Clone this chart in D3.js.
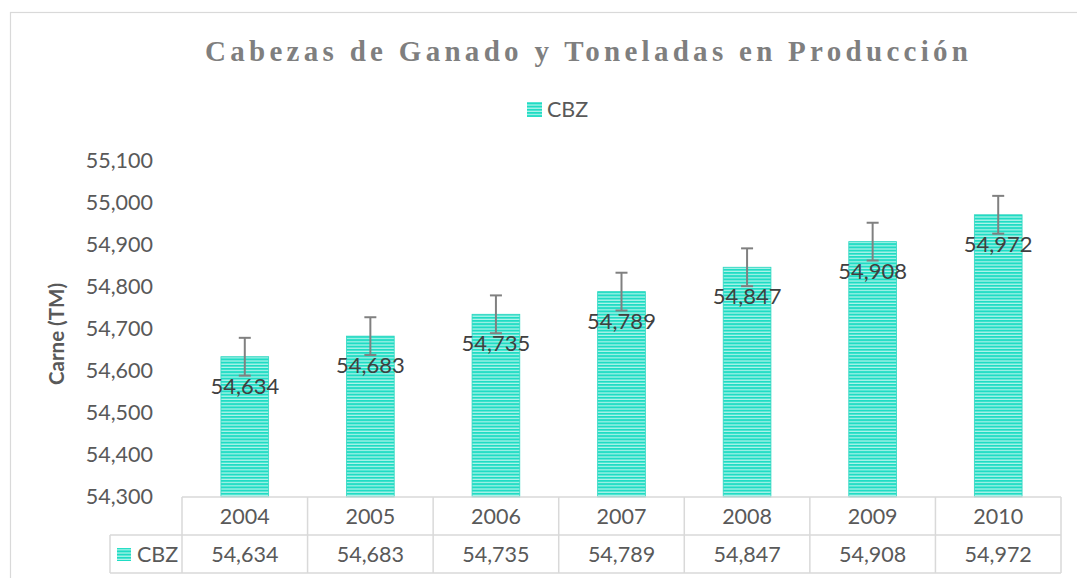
<!DOCTYPE html>
<html>
<head>
<meta charset="utf-8">
<script src="https://cdn.jsdelivr.net/npm/d3@7"></script>
<style>
  body { margin: 0; background: #fff; }
  svg { display: block; }
  text { font-family: Lato, "Open Sans", sans-serif; }
</style>
</head>
<body>
<div id="chart"></div>
<script>
// chart data
var years = ["2004", "2005", "2006", "2007", "2008", "2009", "2010"];
var cbz = [54634, 54683, 54735, 54789, 54847, 54908, 54972];
var errors = [45, 45, 45, 45, 45, 45, 45];
var yTicks = [54300, 54400, 54500, 54600, 54700, 54800, 54900, 55000, 55100];
var seriesName = "CBZ";
var title = "Cabezas de Ganado y Toneladas en Producción";
var yTitle = "Carne (TM)";

var WIDTH = 1077, HEIGHT = 578;
var plotLeft = 182, plotRight = 1061, plotTop = 161, plotBottom = 497;
var rowH = 38;
var fs = '21.5px';

var svg = d3.select('#chart').append('svg')
  .attr('width', WIDTH)
  .attr('height', HEIGHT);

// stripe pattern for the bars
var defs = svg.append('defs');
var pat = defs.append('pattern')
  .attr('id', 'stripes')
  .attr('patternUnits', 'userSpaceOnUse')
  .attr('width', 8).attr('height', 3.2);
pat.append('rect').attr('width', 8).attr('height', 3.2).attr('fill', '#1fdcc4');
pat.append('rect').attr('y', 2).attr('width', 8).attr('height', 1.2).attr('fill', '#b4f4eb');

// outer chart border
svg.append('rect')
  .attr('x', 10.5).attr('y', 12.5)
  .attr('width', WIDTH + 10).attr('height', HEIGHT + 10)
  .attr('fill', 'none')
  .attr('stroke', '#d9d9d9')
  .attr('stroke-width', 1.2);

// title
svg.append('text')
  .attr('x', 205).attr('y', 61)
  .attr('textLength', 763)
  .attr('lengthAdjust', 'spacing')
  .style('font-family', '"Liberation Serif", "Times New Roman", serif')
  .style('font-weight', 'bold')
  .style('font-size', '29px')
  .attr('fill', '#7f7f7f')
  .text(title);

// top legend
svg.append('rect')
  .attr('x', 527).attr('y', 102)
  .attr('width', 15).attr('height', 15)
  .attr('fill', 'url(#stripes)');
svg.append('text')
  .attr('x', 547).attr('y', 117)
  .style('font-size', fs)
  .attr('fill', '#595959')
  .text(seriesName);

// scales
var x = d3.scaleBand()
  .domain(years)
  .range([plotLeft, plotRight])
  .paddingInner(0.62)
  .paddingOuter(0.31);

var y = d3.scaleLinear()
  .domain([54300, 55100])
  .range([plotBottom, plotTop]);

// y axis (labels only)
var yAxis = d3.axisLeft(y)
  .tickValues(yTicks)
  .tickFormat(d3.format(','))
  .tickSize(0)
  .tickPadding(0);

var gy = svg.append('g')
  .attr('transform', 'translate(153,0)')
  .call(yAxis);
gy.select('.domain').remove();
gy.selectAll('text')
  .style('font-family', 'Lato, "Open Sans", sans-serif')
  .style('font-size', fs)
  .attr('fill', '#595959');

// y axis title
svg.append('text')
  .attr('transform', 'translate(64,334) rotate(-90)')
  .attr('text-anchor', 'middle')
  .style('font-size', '20.5px')
  .style('font-weight', 'bold')
  .attr('fill', '#595959')
  .text(yTitle);

// bars
svg.selectAll('rect.bar')
  .data(cbz)
  .enter()
  .append('rect')
  .attr('class', 'bar')
  .attr('x', function(d, i) { return x(years[i]); })
  .attr('y', function(d) { return y(d); })
  .attr('width', x.bandwidth())
  .attr('height', function(d) { return plotBottom - y(d); })
  .attr('fill', 'url(#stripes)')
  .attr('stroke', '#2fd6c0')
  .attr('stroke-width', 0.8);

// error bars
var eb = svg.selectAll('g.err')
  .data(cbz)
  .enter()
  .append('g')
  .attr('class', 'err')
  .attr('stroke', '#808080')
  .attr('stroke-width', 2);
eb.append('line')
  .attr('x1', function(d, i) { return x(years[i]) + x.bandwidth() / 2; })
  .attr('x2', function(d, i) { return x(years[i]) + x.bandwidth() / 2; })
  .attr('y1', function(d, i) { return y(d + errors[i]); })
  .attr('y2', function(d, i) { return y(d - errors[i]); });
eb.append('line')
  .attr('x1', function(d, i) { return x(years[i]) + x.bandwidth() / 2 - 6; })
  .attr('x2', function(d, i) { return x(years[i]) + x.bandwidth() / 2 + 6; })
  .attr('y1', function(d, i) { return y(d + errors[i]); })
  .attr('y2', function(d, i) { return y(d + errors[i]); });
eb.append('line')
  .attr('x1', function(d, i) { return x(years[i]) + x.bandwidth() / 2 - 6; })
  .attr('x2', function(d, i) { return x(years[i]) + x.bandwidth() / 2 + 6; })
  .attr('y1', function(d, i) { return y(d - errors[i]); })
  .attr('y2', function(d, i) { return y(d - errors[i]); });

// value labels
svg.selectAll('text.val')
  .data(cbz)
  .enter()
  .append('text')
  .attr('class', 'val')
  .attr('x', function(d, i) { return x(years[i]) + x.bandwidth() / 2; })
  .attr('y', function(d) { return y(d) + 37; })
  .attr('text-anchor', 'middle')
  .style('font-size', '22px')
  .attr('fill', '#404040')
  .text(function(d) { return d3.format(',')(d); });

// data table
var colW = (plotRight - plotLeft) / years.length;
var tbl = svg.append('g')
  .attr('stroke', '#d9d9d9')
  .attr('stroke-width', 1.5)
  .attr('fill', 'none');
tbl.append('line').attr('x1', plotLeft).attr('x2', plotRight).attr('y1', plotBottom).attr('y2', plotBottom);
tbl.append('line').attr('x1', 110).attr('x2', plotRight).attr('y1', plotBottom + rowH).attr('y2', plotBottom + rowH);
tbl.append('line').attr('x1', 110).attr('x2', plotRight).attr('y1', plotBottom + 2 * rowH).attr('y2', plotBottom + 2 * rowH);
tbl.append('line').attr('x1', 110).attr('x2', 110).attr('y1', plotBottom + rowH).attr('y2', plotBottom + 2 * rowH);
tbl.selectAll('line.col')
  .data(d3.range(years.length + 1))
  .enter()
  .append('line')
  .attr('class', 'col')
  .attr('x1', function(d) { return plotLeft + d * colW; })
  .attr('x2', function(d) { return plotLeft + d * colW; })
  .attr('y1', plotBottom)
  .attr('y2', plotBottom + 2 * rowH);

svg.selectAll('text.yr')
  .data(years)
  .enter()
  .append('text')
  .attr('class', 'yr')
  .attr('x', function(d) { return x(d) + x.bandwidth() / 2; })
  .attr('y', plotBottom + 27)
  .attr('text-anchor', 'middle')
  .style('font-size', fs)
  .attr('fill', '#595959')
  .text(function(d) { return d; });

svg.selectAll('text.tv')
  .data(cbz)
  .enter()
  .append('text')
  .attr('class', 'tv')
  .attr('x', function(d, i) { return x(years[i]) + x.bandwidth() / 2; })
  .attr('y', plotBottom + rowH + 27)
  .attr('text-anchor', 'middle')
  .style('font-size', fs)
  .attr('fill', '#595959')
  .text(function(d) { return d3.format(',')(d); });

// legend key inside table
svg.append('rect')
  .attr('x', 117).attr('y', 548)
  .attr('width', 14).attr('height', 13)
  .attr('fill', 'url(#stripes)');
svg.append('text')
  .attr('x', 137).attr('y', plotBottom + rowH + 27)
  .style('font-size', fs)
  .attr('fill', '#595959')
  .text(seriesName);
</script>
</body>
</html>
